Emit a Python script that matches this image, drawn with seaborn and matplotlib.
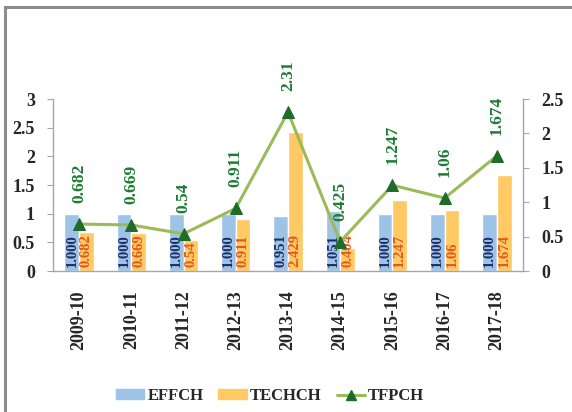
import numpy as np
import pandas as pd
import matplotlib
matplotlib.use("Agg")
import matplotlib.pyplot as plt
from matplotlib.patches import Rectangle
from matplotlib.lines import Line2D
import seaborn as sns

years = ['2009-10', '2010-11', '2011-12', '2012-13', '2013-14',
         '2014-15', '2015-16', '2016-17', '2017-18']
effch = [1.000, 1.000, 1.000, 1.000, 0.951, 1.051, 1.000, 1.000, 1.000]
techch = [0.682, 0.669, 0.54, 0.911, 2.429, 0.404, 1.247, 1.06, 1.674]
tfpch = [0.682, 0.669, 0.54, 0.911, 2.31, 0.425, 1.247, 1.06, 1.674]
effch_labels = ['1.000', '1.000', '1.000', '1.000', '0.951', '1.051', '1.000', '1.000', '1.000']
techch_labels = ['0.682', '0.669', '0.54', '0.911', '2.429', '0.404', '1.247', '1.06', '1.674']
tfpch_labels = ['0.682', '0.669', '0.54', '0.911', '2.31', '0.425', '1.247', '1.06', '1.674']

sns.set_style("white")
plt.rcParams['font.family'] = ['Liberation Serif', 'DejaVu Serif']
plt.rcParams['font.weight'] = 'bold'

df = pd.DataFrame({
    'year': years * 2,
    'value': effch + techch,
    'series': ['EFFCH'] * len(years) + ['TECHCH'] * len(years),
})

colors = {'EFFCH': '#9DC3E6', 'TECHCH': '#FFC963'}
line_color = '#9BBB59'
marker_color = '#1E6B2A'

fig = plt.figure(figsize=(5.72, 4.12), dpi=100)
ax = fig.add_axes([53 / 572, 1 - 271 / 412, 470 / 572, 172 / 412])

sns.barplot(data=df, x='year', y='value', hue='series', palette=colors,
            width=0.56, saturation=1, ax=ax, legend=False)

ax2 = ax.twinx()
sns.lineplot(x=np.arange(len(years)), y=tfpch, ax=ax2, color=line_color,
             linewidth=2.2, marker='^', markersize=9,
             markerfacecolor=marker_color, markeredgecolor=marker_color,
             legend=False)

ax.set_xlim(-0.5, len(years) - 0.5)
ax.set_ylim(0, 3)
ax2.set_ylim(0, 2.5)
ax.set_yticks(np.arange(0, 3.01, 0.5))
ax.set_yticklabels(['0', '0.5', '1', '1.5', '2', '2.5', '3'])
ax2.set_yticks(np.arange(0, 2.51, 0.5))
ax2.set_yticklabels(['0', '0.5', '1', '1.5', '2', '2.5'])
ax.set_xlabel('')
ax.set_ylabel('')
ax2.set_ylabel('')

# bar value labels, written upwards from the base of each bar
label_colors = ['#1F2D6B', '#E4571C']
for cont, labels, col in zip(ax.containers, [effch_labels, techch_labels], label_colors):
    for bar, lbl in zip(cont, labels):
        cx = bar.get_x() + bar.get_width() / 2
        ax.annotate(lbl, (cx, 0), xytext=(0, 3), textcoords='offset points',
                    rotation=90, ha='center', va='bottom', color=col,
                    fontsize=10.5, fontweight='bold')

for i, (v, lbl) in enumerate(zip(tfpch, tfpch_labels)):
    ax2.annotate(lbl, (i, v), xytext=(0, 15), textcoords='offset points',
                 rotation=90, ha='center', va='bottom', color='#1E7B34',
                 fontsize=12.5, fontweight='bold')

# axes styling
for a in (ax, ax2):
    a.spines['top'].set_visible(False)
    for s in ['left', 'right', 'bottom']:
        a.spines[s].set_color('#A6A6A6')
        a.spines[s].set_linewidth(1)
ax.spines['right'].set_visible(False)
ax2.spines['left'].set_visible(False)
ax2.spines['bottom'].set_visible(False)

ax.tick_params(axis='y', length=4, color='#A6A6A6', labelsize=13, pad=9)
ax2.tick_params(axis='y', length=4, color='#A6A6A6', labelsize=13, pad=9)
ax.set_xticks(np.arange(len(years)))
ax.set_xticklabels(years, rotation=90, fontsize=13, fontweight='bold')
ax.set_xticks(np.arange(-0.5, len(years), 1), minor=True)
ax.tick_params(axis='x', which='major', length=0, pad=14)
ax.tick_params(axis='x', which='minor', length=5, color='#A6A6A6')
for t in ax.get_yticklabels() + ax2.get_yticklabels():
    t.set_fontweight('bold')

handles = [
    Rectangle((0, 0), 1, 1, color=colors['EFFCH']),
    Rectangle((0, 0), 1, 1, color=colors['TECHCH']),
    Line2D([0], [0], color=line_color, linewidth=2.2, marker='^', markersize=7,
           markerfacecolor=marker_color, markeredgecolor=marker_color),
]
fig.legend(handles, ['EFFCH', 'TECHCH', 'TFPCH'], loc='center',
           bbox_to_anchor=(270 / 572, 1 - 396 / 412), ncol=3, frameon=False,
           prop={'family': 'Liberation Serif', 'weight': 'bold', 'size': 12},
           handlelength=1.7, handleheight=0.5, handletextpad=0.2, columnspacing=0.9)

# outer frame of the chart area
fig.patches.append(Rectangle((5 / 572, -0.1), 2, 1.1 - 7 / 412,
                             transform=fig.transFigure, fill=False,
                             edgecolor='#8C8C8C', linewidth=2.2))

fig.savefig('out.png', dpi=100)
